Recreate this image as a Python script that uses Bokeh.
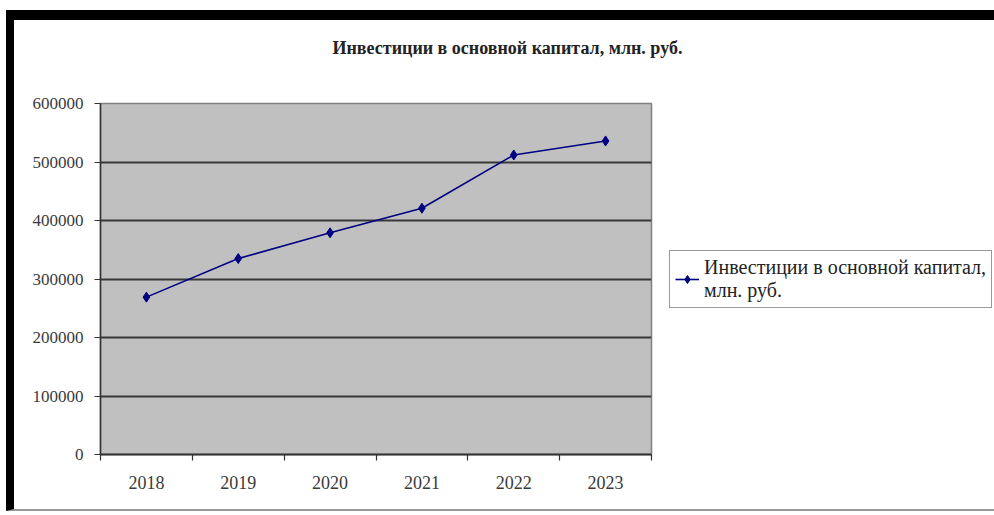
from bokeh.plotting import figure
from bokeh.models import (FixedTicker, BasicTickFormatter, Title,
                          Legend, LegendItem, Range1d)
from bokeh.embed import file_html
from bokeh.resources import INLINE

years = ["2018", "2019", "2020", "2021", "2022", "2023"]
investments = [269000, 335000, 379000, 421000, 512000, 536000]
y_ticks = [0, 100000, 200000, 300000, 400000, 500000, 600000]
title_text = "Инвестиции в основной капитал, млн. руб."
series_name = "Инвестиции в основной капитал,\nмлн. руб."

x_pos = [i + 0.5 for i in range(len(years))]
x_bounds = list(range(len(years) + 1))

FONT = "Liberation Serif"

p = figure(frame_width=551, frame_height=351,
           min_border_left=86, min_border_right=343,
           min_border_top=83, min_border_bottom=55,
           x_range=Range1d(0, len(years)), y_range=Range1d(0, 600000),
           output_backend="svg", toolbar_location=None, title=None)

p.styles = {"margin-top": "10px", "margin-left": "6px",
            "border-top": "10px solid black", "border-left": "8px solid black",
            "border-bottom": "2px solid #9a9a9a"}

p.background_fill_color = "#c0c0c0"
p.border_fill_color = "white"
p.outline_line_color = "#808080"
p.outline_line_width = 1.5

# grid
p.xgrid.visible = False
p.ygrid.ticker = FixedTicker(ticks=y_ticks)
p.ygrid.grid_line_color = "#383838"
p.ygrid.grid_line_width = 2

# y axis
ya = p.yaxis[0]
ya.ticker = FixedTicker(ticks=y_ticks)
ya.formatter = BasicTickFormatter(use_scientific=False)
ya.major_tick_out = 6
ya.major_tick_in = 0
ya.minor_tick_line_color = None
ya.axis_line_color = "#333333"
ya.axis_line_width = 1.5
ya.major_tick_line_color = "#333333"
ya.major_label_text_font = FONT
ya.major_label_text_font_size = "17px"
ya.major_label_text_color = "#3a3a3a"
ya.major_label_standoff = 11

# x axis
xa = p.xaxis[0]
xa.ticker = FixedTicker(ticks=x_pos, minor_ticks=x_bounds)
xa.major_label_overrides = {x: y for x, y in zip(x_pos, years)}
xa.major_tick_line_color = None
xa.major_tick_out = 0
xa.major_tick_in = 0
xa.minor_tick_out = 6
xa.minor_tick_in = 0
xa.minor_tick_line_color = "#333333"
xa.minor_tick_line_width = 1.2
xa.axis_line_color = "#333333"
xa.axis_line_width = 2
xa.major_label_text_font = FONT
xa.major_label_text_font_size = "18px"
xa.major_label_text_color = "#3a3a3a"
xa.major_label_standoff = 15

# series
line_r = p.line(x_pos, investments, line_color="#000080", line_width=1.6)
pts_r = p.scatter(x_pos, investments, marker="diamond", size=10,
                  fill_color="#000080", line_color="#000080")

legend = Legend(items=[LegendItem(label=series_name, renderers=[line_r, pts_r])],
                location="center_left")
legend.label_text_font = FONT
legend.label_text_font_size = "20px"
legend.label_text_color = "#222222"
legend.border_line_color = "#333333"
legend.border_line_width = 1.2
legend.background_fill_color = "white"
legend.background_fill_alpha = 1
legend.glyph_width = 24
legend.label_standoff = 5
legend.padding = 5
legend.margin = 18
p.add_layout(legend, "right")

# spacer between plot area and title (closest to the frame)
spacer = Title(text=" ", text_font_size="12px", standoff=30)
p.add_layout(spacer, "above")

title = Title(text=title_text, align="left", offset=232,
              text_font=FONT, text_font_size="18px", text_font_style="bold",
              text_color="#222222", standoff=0)
p.add_layout(title, "above")

open("out.html", "w").write(file_html(p, INLINE))
